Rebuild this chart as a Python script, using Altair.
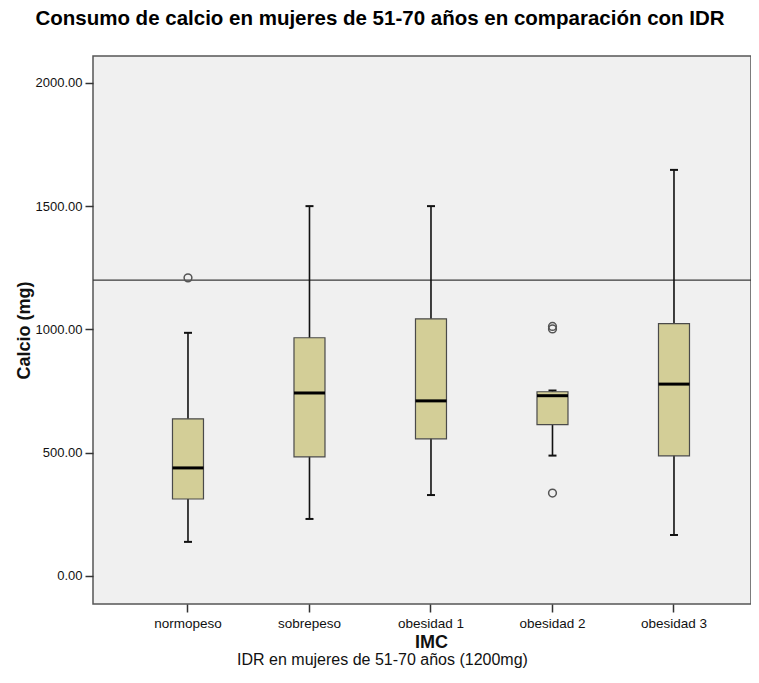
import altair as alt
import pandas as pd

# ---- data ----
categories = ["normopeso", "sobrepeso", "obesidad 1", "obesidad 2", "obesidad 3"]
whisker_low = [138, 231, 328, 488, 166]
q1 = [312, 483, 556, 614, 487]
median = [438, 742, 710, 731, 778]
q3 = [637, 966, 1043, 747, 1023]
whisker_high = [986, 1500, 1500, 752, 1647]

outlier_group = ["normopeso", "obesidad 2", "obesidad 2", "obesidad 2"]
outlier_value = [1209, 1002, 1012, 336]

reference_value = [1200]
y_ticks = [0, 500, 1000, 1500, 2000]

title_text = "Consumo de calcio en mujeres de 51-70 años en comparación con IDR"
footnote_text = ["IDR en mujeres de 51-70 años (1200mg)"]
y_title = "Calcio (mg)"
x_title = "IMC"

# ---- tables ----
box_df = pd.DataFrame({
    "categoria": categories,
    "low": whisker_low,
    "q1": q1,
    "median": median,
    "q3": q3,
    "high": whisker_high,
})
out_df = pd.DataFrame({"categoria": outlier_group, "valor": outlier_value})
ref_df = pd.DataFrame({"ref": reference_value})
note_df = pd.DataFrame({"nota": footnote_text})

FONT = "Liberation Sans"
W, H = 658, 548
LEFT, TOP = 85, 48  # plot origin inside the svg (page margin adds 8)

x_scale = alt.Scale(domain=categories, paddingInner=0, paddingOuter=0.2078, align=0.678)
y_scale = alt.Scale(domain=[-114, 2109], nice=False, zero=False)

x_axis = alt.Axis(
    title=x_title, labelFontSize=13.5, labelColor="#111", labelFont=FONT,
    labelAngle=0, labelBaseline="alphabetic", labelPadding=15,
    tickSize=8, tickColor="#333", tickWidth=1.5, domain=False, grid=False,
    titleFont=FONT, titleFontSize=18, titleFontWeight="bold", titleColor="#111",
    titleBaseline="alphabetic", titleX=338, titleY=43, titleAlign="center",
)
y_axis = alt.Axis(
    title=y_title, values=y_ticks, format=".2f", labelFontSize=13, labelColor="#111",
    labelFont=FONT, labelPadding=3, tickSize=8, tickColor="#333", tickWidth=1.5,
    domain=False, grid=False,
    titleFont=FONT, titleFontSize=18, titleFontWeight="bold", titleColor="#111",
    titleBaseline="alphabetic", titleX=-64, titleAngle=-90,
)

X = alt.X("categoria:N", scale=x_scale, axis=x_axis, sort=categories)

base = alt.Chart(box_df)

ref_line = alt.Chart(ref_df).mark_rule(color="#3a3a3a", strokeWidth=1.2).encode(
    y=alt.Y("ref:Q", scale=y_scale, axis=y_axis)
)
whiskers = base.mark_rule(color="#111", strokeWidth=1.6, opacity=1).encode(
    x=X,
    y=alt.Y("low:Q", scale=y_scale, axis=y_axis),
    y2="high:Q",
)
cap_low = base.mark_tick(color="#111", size=8, thickness=2, opacity=1).encode(
    x=X, y=alt.Y("low:Q", scale=y_scale, axis=y_axis)
)
cap_high = base.mark_tick(color="#111", size=8, thickness=2, opacity=1).encode(
    x=X, y=alt.Y("high:Q", scale=y_scale, axis=y_axis)
)
boxes = base.mark_bar(size=31, fill="#D3CE97", stroke="#4a4a4a", strokeWidth=1.2, opacity=1).encode(
    x=X,
    y=alt.Y("q1:Q", scale=y_scale, axis=y_axis),
    y2="q3:Q",
)
medians = base.mark_tick(color="#000", size=31, thickness=3, opacity=1).encode(
    x=X, y=alt.Y("median:Q", scale=y_scale, axis=y_axis)
)
outliers = alt.Chart(out_df).mark_point(
    shape="circle", filled=False, size=60, stroke="#555", strokeWidth=1.5, opacity=1
).encode(
    x=X, y=alt.Y("valor:Q", scale=y_scale, axis=y_axis)
)
note = alt.Chart(note_df).mark_text(
    font=FONT, fontSize=16, color="#111", align="center", baseline="alphabetic"
).encode(
    x=alt.value(382.5 - 93), y=alt.value(665 - 56), text="nota:N"
)

chart = alt.layer(ref_line, whiskers, cap_low, cap_high, boxes, medians, outliers, note).properties(
    width=W,
    height=H,
    title=alt.TitleParams(
        text=title_text, anchor="middle", frame="group", font=FONT, fontSize=20.5,
        fontWeight="bold", color="#000", baseline="alphabetic", offset=11, dx=-42,
    ),
    padding={"left": LEFT, "top": TOP, "right": 0, "bottom": 65},
    autosize=alt.AutoSizeParams(type="none"),
).configure(background="white").configure_view(
    fill="#F0F0F0", stroke="#555", strokeWidth=1.5
)

chart.save("out.html", embed_options={"renderer": "svg", "actions": False})
